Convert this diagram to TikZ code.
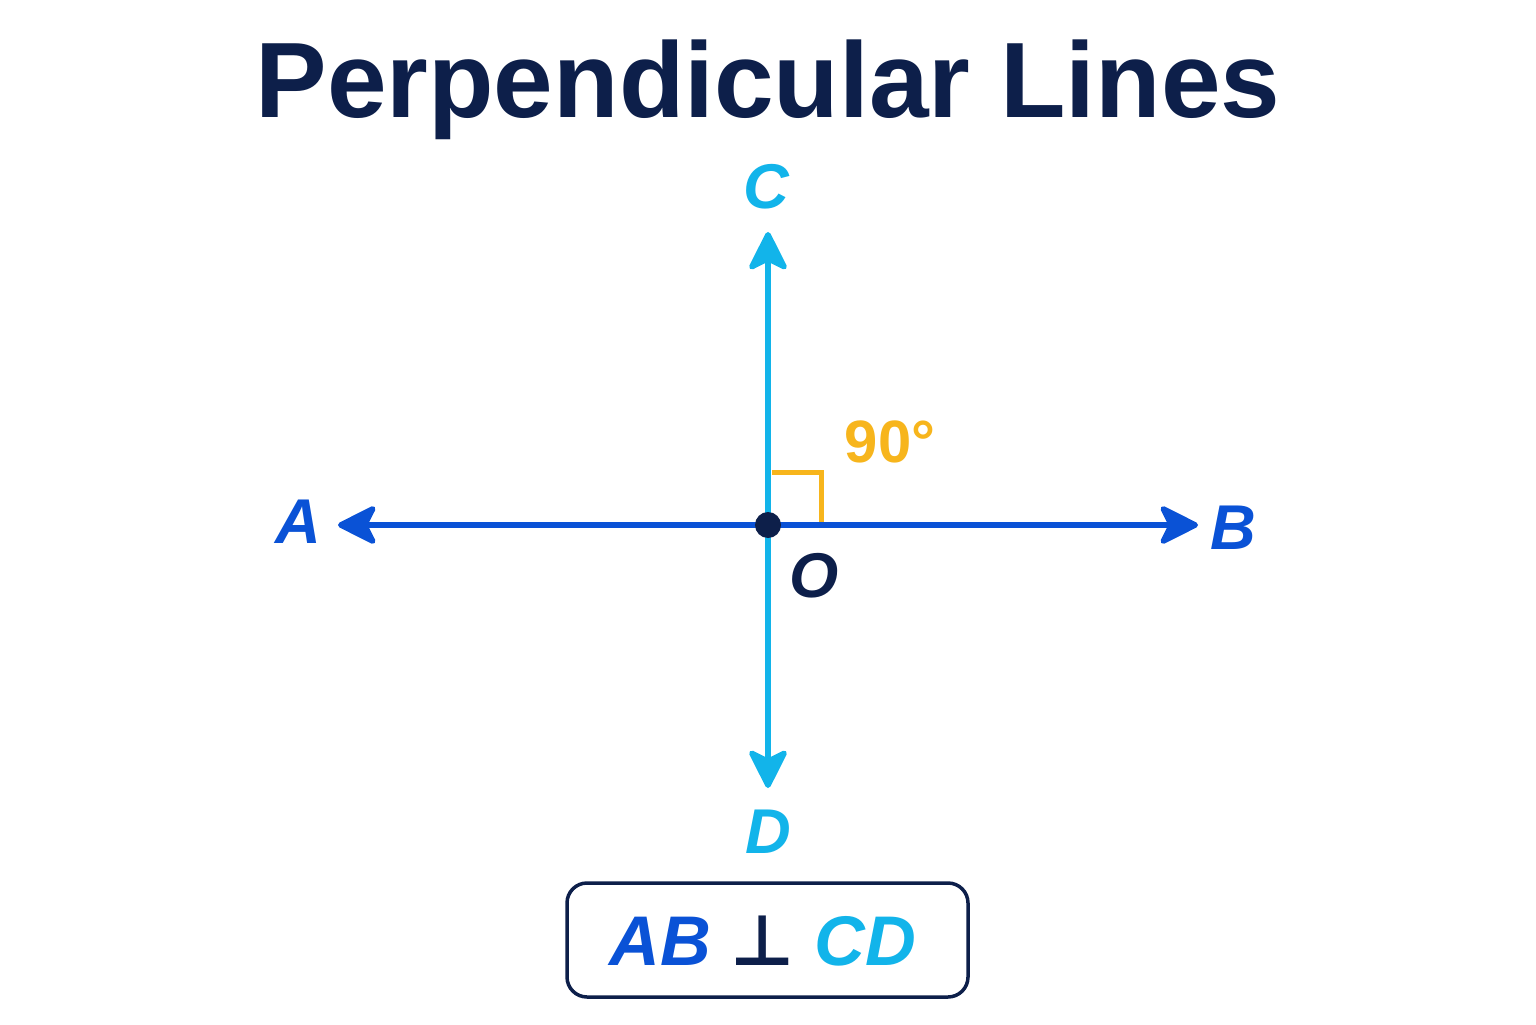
\documentclass[tikz,border=0pt]{standalone}
\usepackage{fontspec}
\setmainfont{Liberation Sans}
\newfontfamily\symfont{DejaVu Sans}
\usetikzlibrary{arrows.meta,positioning,calc}

\definecolor{navy}{HTML}{0D1F4A}
\definecolor{lineblue}{HTML}{0A52D6}
\definecolor{linecyan}{HTML}{12B4EA}
\definecolor{angleorange}{HTML}{F7B51C}

\tikzset{
    linelabel/.style={inner sep=0pt, font=\fontsize{18}{20}\selectfont\bfseries\itshape},
    rayline/.style={line width=0.055cm, -{Stealth[length=0.44cm, width=0.44cm, inset=0.11cm, line join=round]}}
}

\begin{document}
\begin{tikzpicture}

    \useasboundingbox [fill=white] (0,0) rectangle (15.36,10.24);

        % Nodes
    \node (title) [anchor=base, text=navy, font=\fontsize{30.5}{34}\selectfont\bfseries] at (7.68,9.06) {Perpendicular Lines};
    \coordinate (O) at (7.68,4.99);
    \coordinate (Aend) at (3.38,4.99);
    \coordinate (Bend) at (11.98,4.99);
    \coordinate (Cend) at (7.68,7.92);
    \coordinate (Dend) at (7.68,2.36);
    \node (A) [linelabel, text=lineblue] at (2.98,5.02) {A};
    \node (B) [linelabel, text=lineblue] at (12.33,4.96) {B};
    \node (C) [linelabel, text=linecyan] at (7.66,8.37) {C};
    \node (D) [linelabel, text=linecyan] at (7.68,1.92) {D};
    \node (Olabel) [linelabel, text=navy] at (8.14,4.48) {O};
    \node (angle) [anchor=base, inner sep=0pt, text=angleorange, font=\fontsize{17}{19}\selectfont\bfseries] at (8.90,5.62) {90°};
    \node (relation) [draw=navy, line width=0.035cm, rounded corners=0.2cm, minimum width=4.01cm, minimum height=1.14cm] at (7.675,0.84) {};
    \node (relationtext) [anchor=base, inner sep=0pt, font=\fontsize{20}{22}\selectfont\bfseries\itshape] at (7.63,0.59)
        {\textcolor{lineblue}{AB} \textcolor{navy}{\symfont\upshape ⊥} \textcolor{linecyan}{CD}};

        % Lines
    \draw [rayline, linecyan] (O) -- (Cend);
    \draw [rayline, linecyan] (O) -- (Dend);
    \draw [rayline, lineblue] (O) -- (Aend);
    \draw [rayline, lineblue] (O) -- (Bend);
    \draw [angleorange, line width=0.05cm] ($(O)+(0.04,0.53)$) -| ($(O)+(0.53,0.03)$);
    \fill [navy] (O) circle (0.13);

\end{tikzpicture}
\end{document}
